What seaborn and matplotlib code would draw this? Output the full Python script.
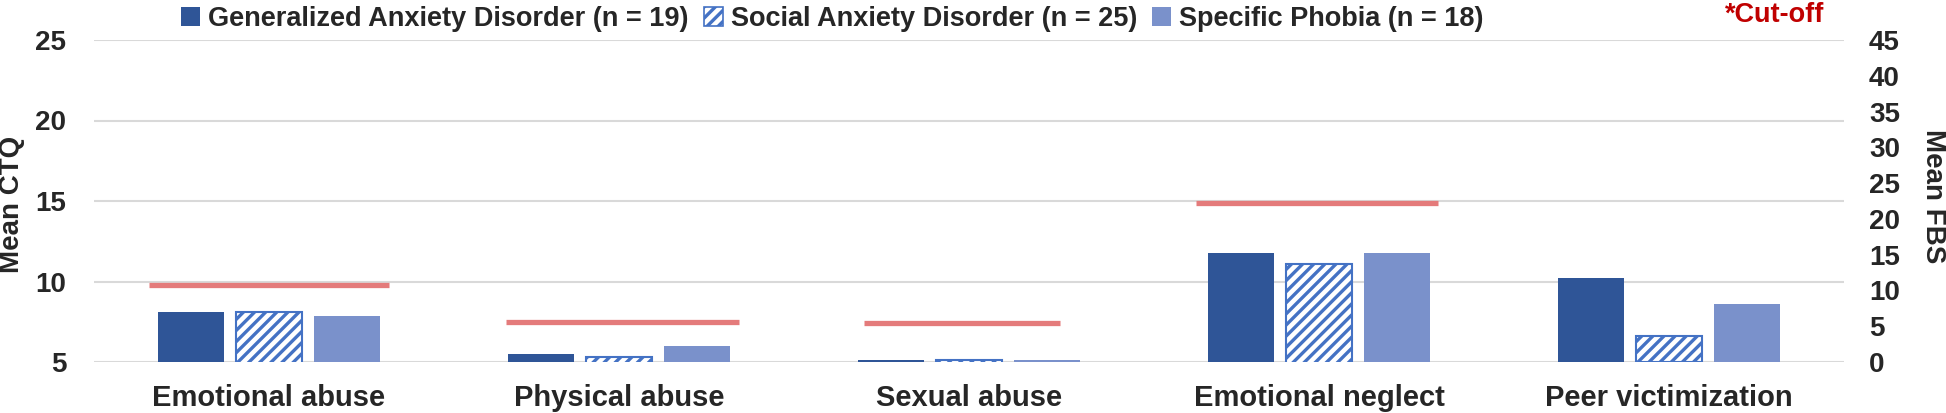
import matplotlib
matplotlib.use("Agg")
import matplotlib.pyplot as plt
from matplotlib.patches import Patch
import seaborn as sns
import pandas as pd

# ---------------- data ----------------
categories = ["Emotional abuse", "Physical abuse", "Sexual abuse",
              "Emotional neglect", "Peer victimization"]
groups = ["Generalized Anxiety Disorder (n = 19)",
          "Social Anxiety Disorder (n = 25)",
          "Specific Phobia (n = 18)"]
gad_values = [8.1, 5.5, 5.15, 11.8, 11.8]
sad_values = [8.1, 5.3, 5.15, 11.1, 3.6]
sp_values = [7.85, 6.0, 5.15, 11.8, 8.1]
cutoff_categories = ["Emotional abuse", "Physical abuse", "Sexual abuse", "Emotional neglect"]
cutoff_values = [9.8, 7.5, 7.45, 14.9]
fbs_category = "Peer victimization"
ctq_ticks = [5, 10, 15, 20, 25]
fbs_ticks = [0, 5, 10, 15, 20, 25, 30, 35, 40, 45]

# ---------------- style ----------------
C_GAD = "#2F5597"
C_SAD_EDGE = "#4472C4"
C_SP = "#7A91CB"
C_CUT = "#E47B7B"
C_GRID = "#D9D9D9"
cut_halfwidths = [0.343, 0.334, 0.279, 0.346]
cut_shifts = [0.0, 0.01, -0.02, -0.005]
FS = 20

sns.set_theme(style="white")
plt.rcParams["font.family"] = ["Liberation Sans", "DejaVu Sans"]
plt.rcParams["font.weight"] = "bold"
plt.rcParams["hatch.linewidth"] = 2.4

rows = []
for g, vals in zip(groups, [gad_values, sad_values, sp_values]):
    for c, v in zip(categories, vals):
        rows.append({"category": c, "group": g, "value": v})
df = pd.DataFrame(rows)
palette = {groups[0]: C_GAD, groups[1]: "white", groups[2]: C_SP}

fig = plt.figure(figsize=(19.46, 4.13), dpi=100)
ax = fig.add_axes([94 / 1946, 1 - 362 / 413, 1750 / 1946, 322 / 413])

sns.barplot(data=df[df["category"] != fbs_category], x="category", y="value",
            hue="group", order=categories, hue_order=groups, palette=palette,
            width=0.67, gap=0.16, legend=False, ax=ax, saturation=1)
ax2 = ax.twinx()
sns.barplot(data=df[df["category"] == fbs_category], x="category", y="value",
            hue="group", order=categories, hue_order=groups, palette=palette,
            width=0.67, gap=0.16, legend=False, ax=ax2, saturation=1)

for a in (ax, ax2):
    for i, cont in enumerate(a.containers):
        for p in cont.patches:
            if i == 1:
                p.set_facecolor("white")
                p.set_edgecolor(C_SAD_EDGE)
                p.set_hatch("///")
                p.set_linewidth(1.5)
            else:
                p.set_edgecolor("none")

# cut-off lines
for c, v, hw, sh in zip(cutoff_categories, cutoff_values, cut_halfwidths, cut_shifts):
    xi = categories.index(c) + sh
    ax.hlines(v, xi - hw, xi + hw, color=C_CUT, linewidth=3.8, zorder=5)

ax.set_xlim(-0.5, len(categories) - 0.5)
ax.set_ylim(5, 25)
ax2.set_ylim(0, 45)
ax.set_yticks(ctq_ticks)
ax2.set_yticks(fbs_ticks)
ax.set_xticks(range(len(categories)))
ax.set_xticklabels(categories, fontsize=FS + 1, fontweight="bold")
ax.tick_params(axis="x", length=0, pad=16)
ax.tick_params(axis="y", length=0, pad=20, labelsize=FS)
ax2.tick_params(axis="y", length=0, pad=18, labelsize=FS)
for t in ax.get_yticklabels() + ax2.get_yticklabels():
    t.set_fontweight("bold")

ax.grid(axis="y", color=C_GRID, linewidth=1.5)
ax.set_axisbelow(True)
for a in (ax, ax2):
    for s in a.spines.values():
        s.set_visible(False)
ax.set_xlabel("")
ax.set_ylabel("Mean CTQ", fontsize=FS, fontweight="bold")
ax.yaxis.label.set_va("center")
ax.yaxis.set_label_coords((12 - 94) / 1750, 0.49)
ax2.set_ylabel("Mean FBS", fontsize=FS, fontweight="bold", rotation=270)
ax2.yaxis.label.set_va("center")
ax2.yaxis.set_label_coords((1933 - 94) / 1750, 0.515)

handles = [Patch(facecolor=C_GAD, edgecolor="none"),
           Patch(facecolor="white", edgecolor=C_SAD_EDGE, hatch="///", linewidth=1.2),
           Patch(facecolor=C_SP, edgecolor="none")]
fig.legend(handles, groups, loc="upper left", bbox_to_anchor=(157 / 1946, 1.045),
           ncol=3, frameon=False, handlelength=0.7, handleheight=0.7,
           handletextpad=0.3, columnspacing=0.55, prop={"weight": "bold", "size": 19.5})
fig.text(1725 / 1946, 1 - 2 / 413, "*Cut-off", color="#C00000", fontsize=19.5,
         fontweight="bold", ha="left", va="top")

fig.savefig("out.png", dpi=100)
